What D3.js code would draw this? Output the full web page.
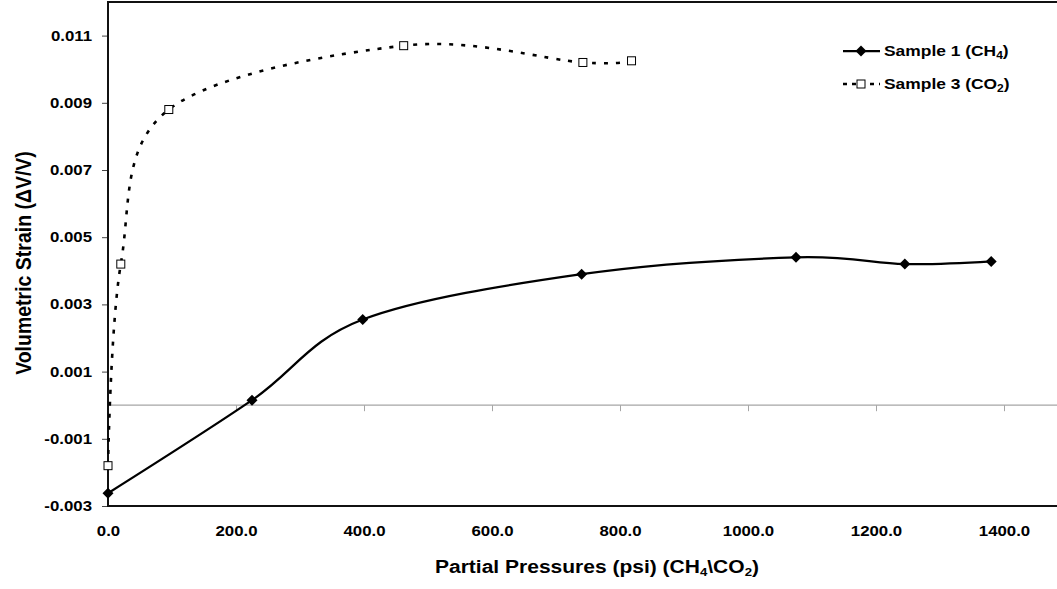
<!DOCTYPE html>
<html>
<head>
<meta charset="utf-8">
<script src="https://cdn.jsdelivr.net/npm/d3@7"></script>
<style>
  body { margin: 0; background: #fff; }
  text { font-family: "Liberation Sans", Arial, sans-serif; font-weight: bold; fill: #000; }
</style>
</head>
<body>
<svg id="chart" width="1057" height="589"></svg>
<script>
// Sample 1 (CH4)
const ch4Pressure = [0, 225, 398, 740, 1075, 1245, 1380];
const ch4Strain = [-0.00262, 0.00015, 0.00255, 0.0039, 0.0044, 0.0042, 0.00428];
// Sample 3 (CO2)
const co2Pressure = [0, 20, 95, 462, 742, 818];
const co2Strain = [-0.0018, 0.0042, 0.0088, 0.0107, 0.0102, 0.01025];

const xTicks = [0, 200, 400, 600, 800, 1000, 1200, 1400];
const yTicks = [-0.003, -0.001, 0.001, 0.003, 0.005, 0.007, 0.009, 0.011];
const seriesNames = ["Sample 1", "Sample 3"];
const seriesGas = [["CH", "4"], ["CO", "2"]];

const stretch = 1.2; // text in the original is widened

const svg = d3.select("#chart");

const x = d3.scaleLinear().domain([0, 1500]).range([108, 1068]);
const y = d3.scaleLinear().domain([-0.003, 0.012]).range([506, 2]);

// zero line with its small ticks
svg.append("line")
  .attr("x1", x(0)).attr("x2", 1057)
  .attr("y1", y(0)).attr("y2", y(0))
  .attr("stroke", "#a6a6a6").attr("stroke-width", 1.2);

const zeroAxis = svg.append("g")
  .attr("transform", `translate(0,${y(0)})`)
  .call(d3.axisBottom(x).tickValues(xTicks).tickSize(6).tickFormat(""));
zeroAxis.select(".domain").remove();
zeroAxis.selectAll(".tick line").attr("stroke", "#a6a6a6");

// x labels at the bottom
const xAxis = svg.append("g")
  .attr("transform", "translate(0,506)")
  .call(d3.axisBottom(x).tickValues(xTicks).tickSize(0).tickPadding(20).tickFormat(d3.format(".1f")));
xAxis.select(".domain").remove();
xAxis.selectAll("text").attr("font-size", 14).attr("fill", "#000");

// y axis
const yAxis = svg.append("g")
  .attr("transform", "translate(108,0)")
  .call(d3.axisLeft(y).tickValues(yTicks).tickSize(6).tickPadding(10)
    .tickFormat((d) => d.toFixed(3)));
yAxis.select(".domain").remove();
yAxis.selectAll(".tick line").attr("stroke", "#444");
yAxis.selectAll("text").attr("font-size", 14).attr("fill", "#000");

// frame
svg.append("path")
  .attr("d", `M1068,2H108V506H1068`)
  .attr("fill", "none").attr("stroke", "#111").attr("stroke-width", 2);

const smooth = d3.line()
  .x((d) => x(d[0]))
  .y((d) => y(d[1]))
  .curve(d3.curveCardinal.tension(0));

const ch4 = ch4Pressure.map((p, i) => [p, ch4Strain[i]]);
const co2 = co2Pressure.map((p, i) => [p, co2Strain[i]]);

svg.append("path")
  .attr("d", smooth(co2))
  .attr("fill", "none").attr("stroke", "#000")
  .attr("stroke-width", 2.6).attr("stroke-dasharray", "4,8");

svg.append("path")
  .attr("d", smooth(ch4))
  .attr("fill", "none").attr("stroke", "#000").attr("stroke-width", 2.25);

const diamond = "M0,-5.5L5.5,0L0,5.5L-5.5,0Z";

svg.selectAll(".ch4")
  .data(ch4)
  .enter()
  .append("path")
  .attr("class", "ch4")
  .attr("d", diamond)
  .attr("transform", (d) => `translate(${x(d[0])},${y(d[1])})`)
  .attr("fill", "#000");

svg.selectAll(".co2")
  .data(co2)
  .enter()
  .append("rect")
  .attr("class", "co2")
  .attr("x", (d) => x(d[0]) - 4)
  .attr("y", (d) => y(d[1]) - 4)
  .attr("width", 8).attr("height", 8)
  .attr("fill", "#fff").attr("stroke", "#000").attr("stroke-width", 1);

// legend
const legend = svg.append("g");
seriesNames.forEach((name, i) => {
  const ly = 51 + i * 33;
  legend.append("line")
    .attr("x1", 843).attr("x2", 880).attr("y1", ly).attr("y2", ly)
    .attr("stroke", "#000")
    .attr("stroke-width", i === 0 ? 2.25 : 2.6)
    .attr("stroke-dasharray", i === 0 ? null : "4,5");
  if (i === 0) {
    legend.append("path").attr("d", diamond).attr("transform", `translate(861,${ly})`).attr("fill", "#000");
  } else {
    legend.append("rect").attr("x", 857).attr("y", ly - 4).attr("width", 8).attr("height", 8)
      .attr("fill", "#fff").attr("stroke", "#000");
  }
  const t = legend.append("text").attr("x", 884).attr("y", ly + 5).attr("font-size", 14.5);
  t.append("tspan").text(`${name} (${seriesGas[i][0]}`);
  t.append("tspan").attr("font-size", 10).attr("dy", 3).text(seriesGas[i][1]);
  t.append("tspan").attr("dy", -3).text(")");
});

// axis titles
const xt = svg.append("text")
  .attr("x", 597).attr("y", 573)
  .attr("text-anchor", "middle").attr("font-size", 17.5);
xt.append("tspan").text("Partial Pressures (psi) (CH");
xt.append("tspan").attr("font-size", 11).attr("dy", 3).text("4");
xt.append("tspan").attr("dy", -3).text("\\CO");
xt.append("tspan").attr("font-size", 11).attr("dy", 3).text("2");
xt.append("tspan").attr("dy", -3).text(")");

svg.append("text")
  .attr("transform", `translate(31,263) scale(1.15,1) rotate(-90)`)
  .attr("text-anchor", "middle").attr("font-size", 19.5)
  .text("Volumetric Strain (\u0394V/V)");

// widen horizontal texts like the original
svg.selectAll("text").each(function () {
  if (this.getAttribute("transform")) return;
  const w = this.getComputedTextLength();
  d3.select(this).attr("textLength", w * stretch).attr("lengthAdjust", "spacingAndGlyphs");
});
</script>
</body>
</html>
